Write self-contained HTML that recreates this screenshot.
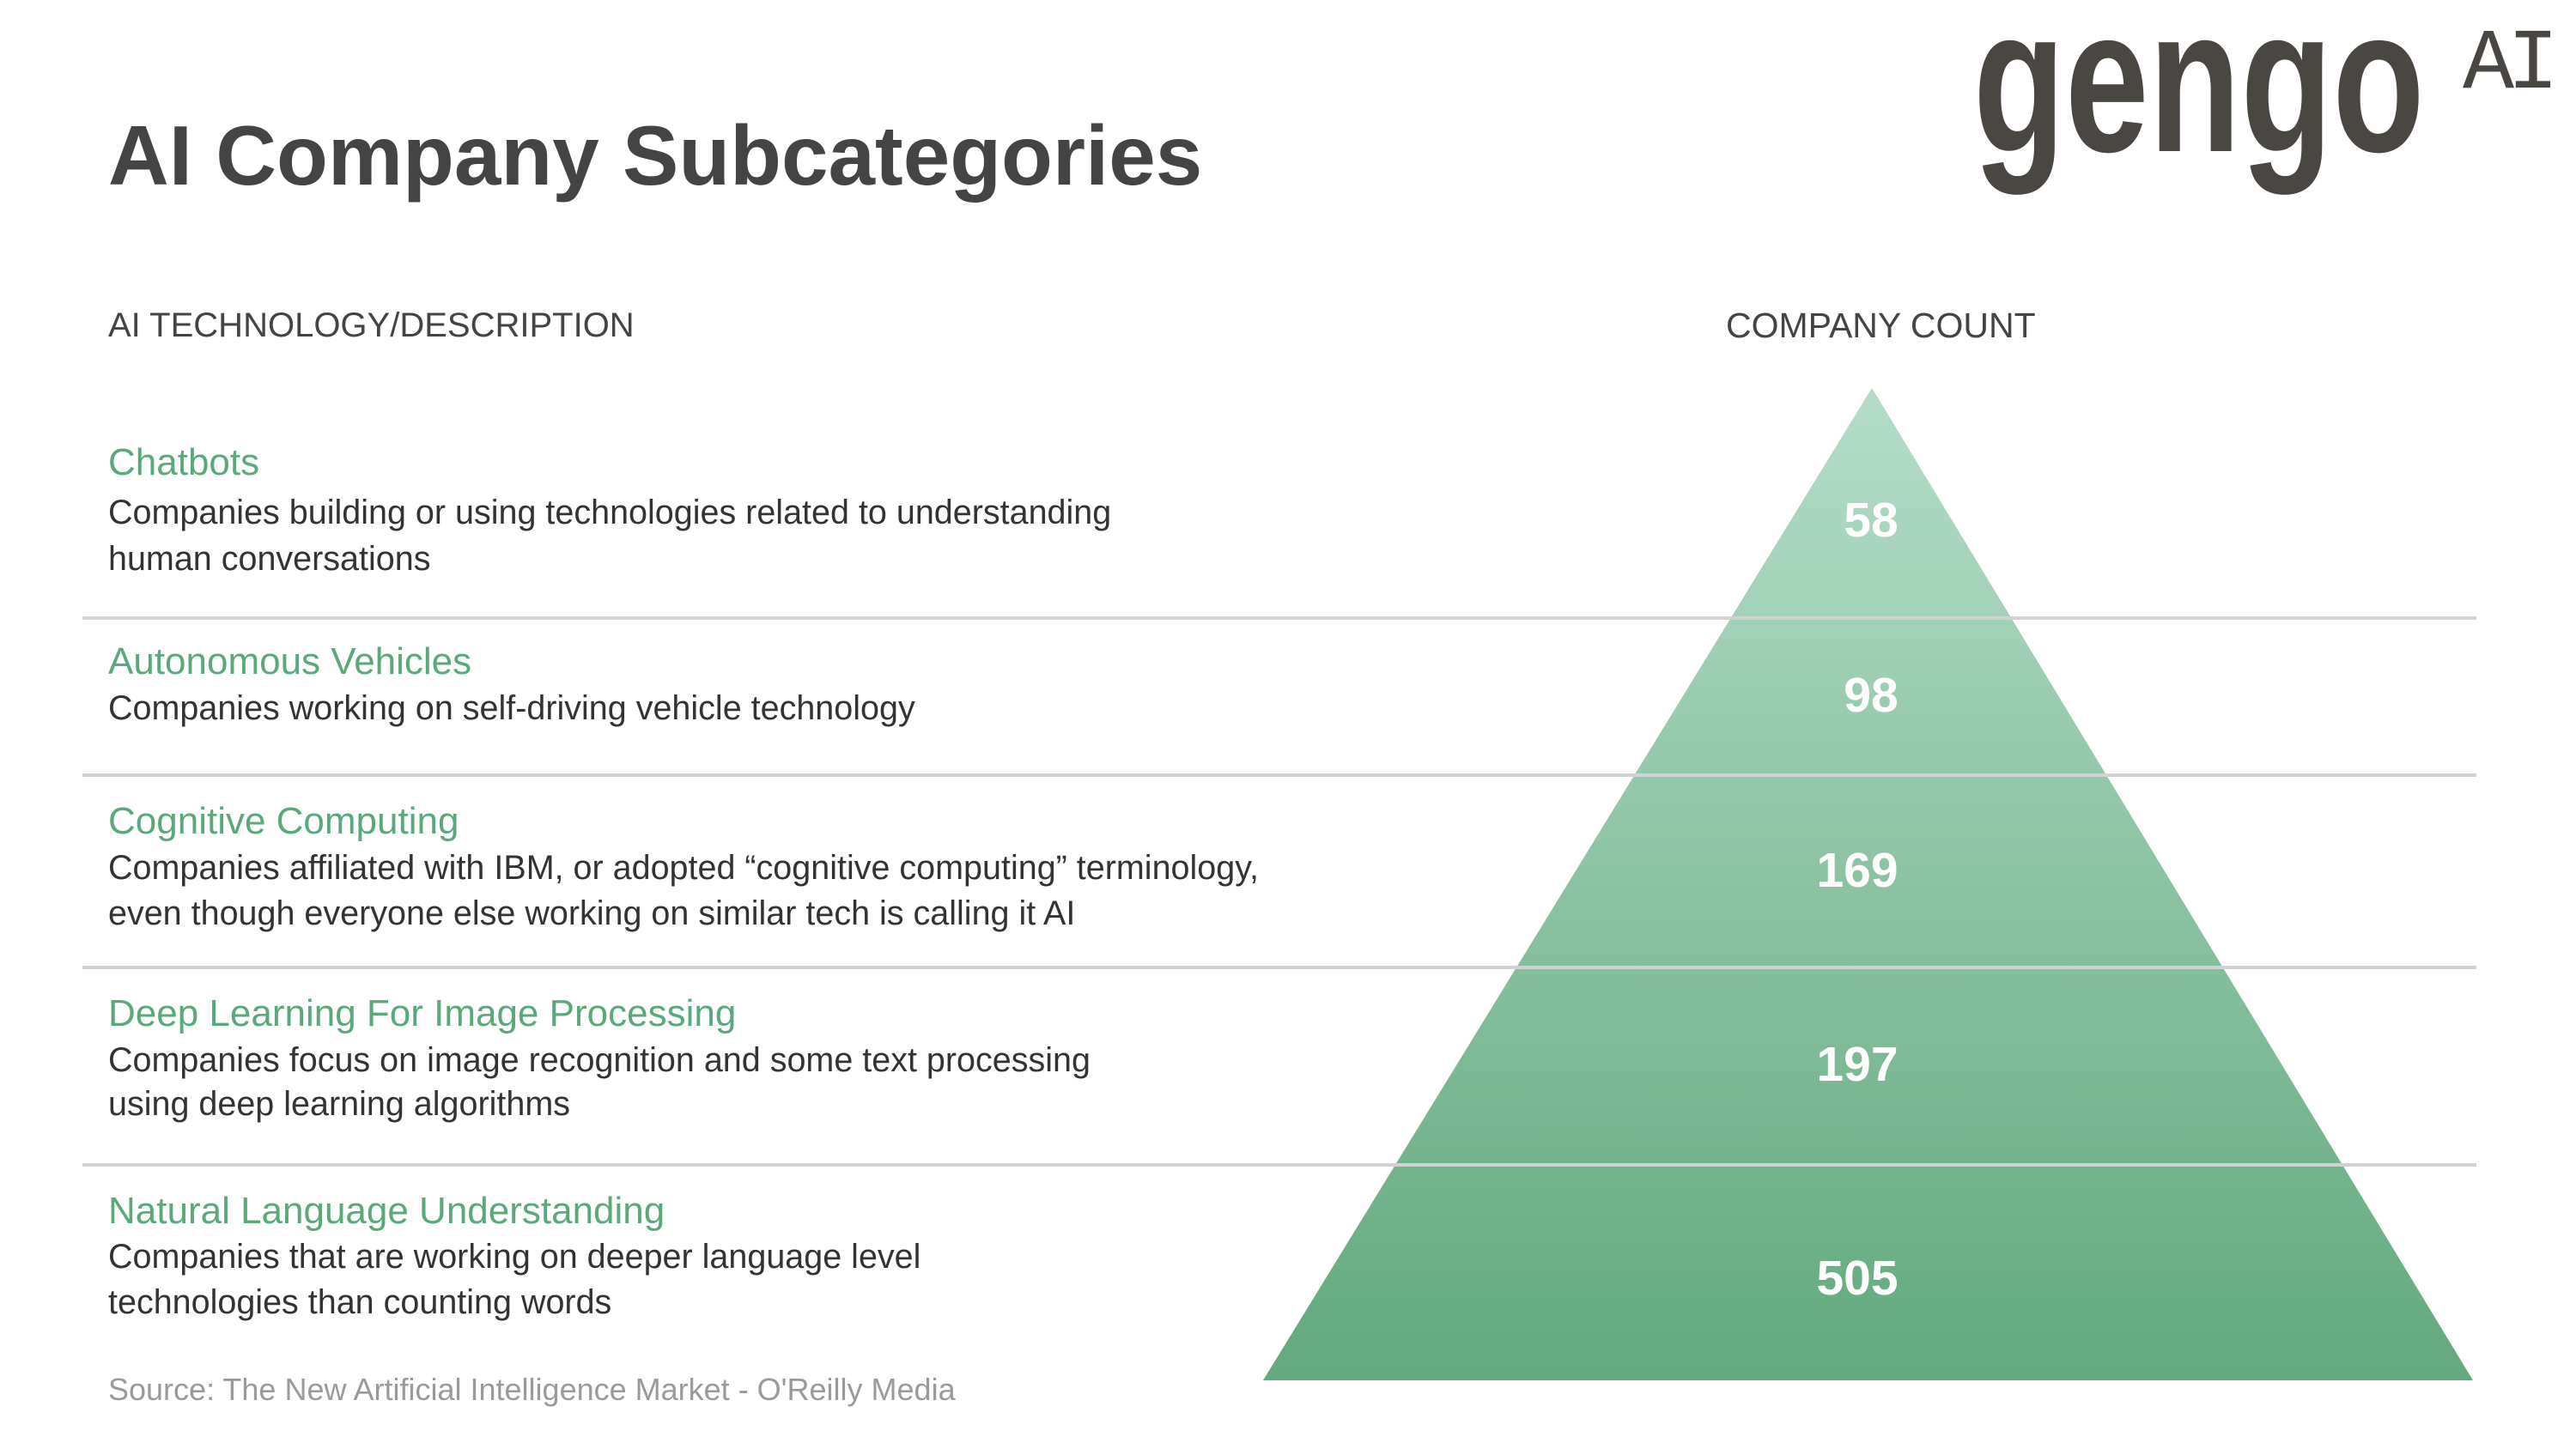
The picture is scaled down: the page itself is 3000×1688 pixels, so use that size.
<!DOCTYPE html>
<html><head><meta charset="utf-8"><style>
html,body{margin:0;padding:0;background:#fff;}
body{width:3000px;height:1688px;position:relative;overflow:hidden;font-family:"Liberation Sans",sans-serif;}
.a{position:absolute;white-space:nowrap;}
.h{color:#5aa97a;font-size:44px;line-height:44px;}
.d{color:#333;font-size:39.5px;line-height:40px;}
.n{color:#fff;font-weight:bold;font-size:57px;line-height:56px;transform:translateX(-50%);}
.ln{position:absolute;left:96px;width:2788px;height:4px;background:#d2d2d2;}
</style></head><body>
<svg class="a" style="left:0;top:0" width="3000" height="1688">
<defs><linearGradient id="g" x1="0" y1="0" x2="0" y2="1"><stop offset="0" stop-color="#b4ddc8"/><stop offset="1" stop-color="#62a97c"/></linearGradient></defs>
<polygon points="2180,452 1471,1608 2880,1608" fill="url(#g)"/>
</svg>
<div class="ln" style="top:718px"></div>
<div class="ln" style="top:901px"></div>
<div class="ln" style="top:1125px"></div>
<div class="ln" style="top:1355px"></div>
<div class="a" style="left:126px;top:132px;font-size:98px;line-height:98px;color:#444;font-weight:bold;">AI Company Subcategories</div>
<div class="a" style="left:2298px;top:-27px;font-weight:bold;font-size:240px;line-height:240px;color:#4a4743;transform:scaleX(0.73);transform-origin:0 0;">gengo</div>
<div class="a" style="left:2868px;top:27px;font-family:'Liberation Mono',monospace;font-size:100px;line-height:100px;color:#4a4743;letter-spacing:-8px;">AI</div>
<div class="a" style="left:126px;top:359px;font-size:40px;line-height:40px;color:#444;">AI TECHNOLOGY/DESCRIPTION</div>
<div class="a" style="left:2010px;top:359px;font-size:41px;line-height:40px;color:#444;">COMPANY COUNT</div>

<div class="a h" style="left:126px;top:517px">Chatbots</div>
<div class="a d" style="left:126px;top:577px">Companies building or using technologies related to understanding</div>
<div class="a d" style="left:126px;top:631px">human conversations</div>

<div class="a h" style="left:126px;top:749px">Autonomous Vehicles</div>
<div class="a d" style="left:126px;top:805px">Companies working on self-driving vehicle technology</div>

<div class="a h" style="left:126px;top:935px">Cognitive Computing</div>
<div class="a d" style="left:126px;top:991px">Companies affiliated with IBM, or adopted “cognitive computing” terminology,</div>
<div class="a d" style="left:126px;top:1044px">even though everyone else working on similar tech is calling it AI</div>

<div class="a h" style="left:126px;top:1159px">Deep Learning For Image Processing</div>
<div class="a d" style="left:126px;top:1215px">Companies focus on image recognition and some text processing</div>
<div class="a d" style="left:126px;top:1266px">using deep learning algorithms</div>

<div class="a h" style="left:126px;top:1389px">Natural Language Understanding</div>
<div class="a d" style="left:126px;top:1444px">Companies that are working on deeper language level</div>
<div class="a d" style="left:126px;top:1497px">technologies than counting words</div>

<div class="a" style="left:126px;top:1601px;font-size:36px;line-height:36px;color:#9a9a9a;">Source: The New Artificial Intelligence Market - O'Reilly Media</div>

<div class="a n" style="left:2179px;top:578px">58</div>
<div class="a n" style="left:2179px;top:782px">98</div>
<div class="a n" style="left:2163px;top:986px">169</div>
<div class="a n" style="left:2163px;top:1212px">197</div>
<div class="a n" style="left:2163px;top:1461px">505</div>
</body></html>
